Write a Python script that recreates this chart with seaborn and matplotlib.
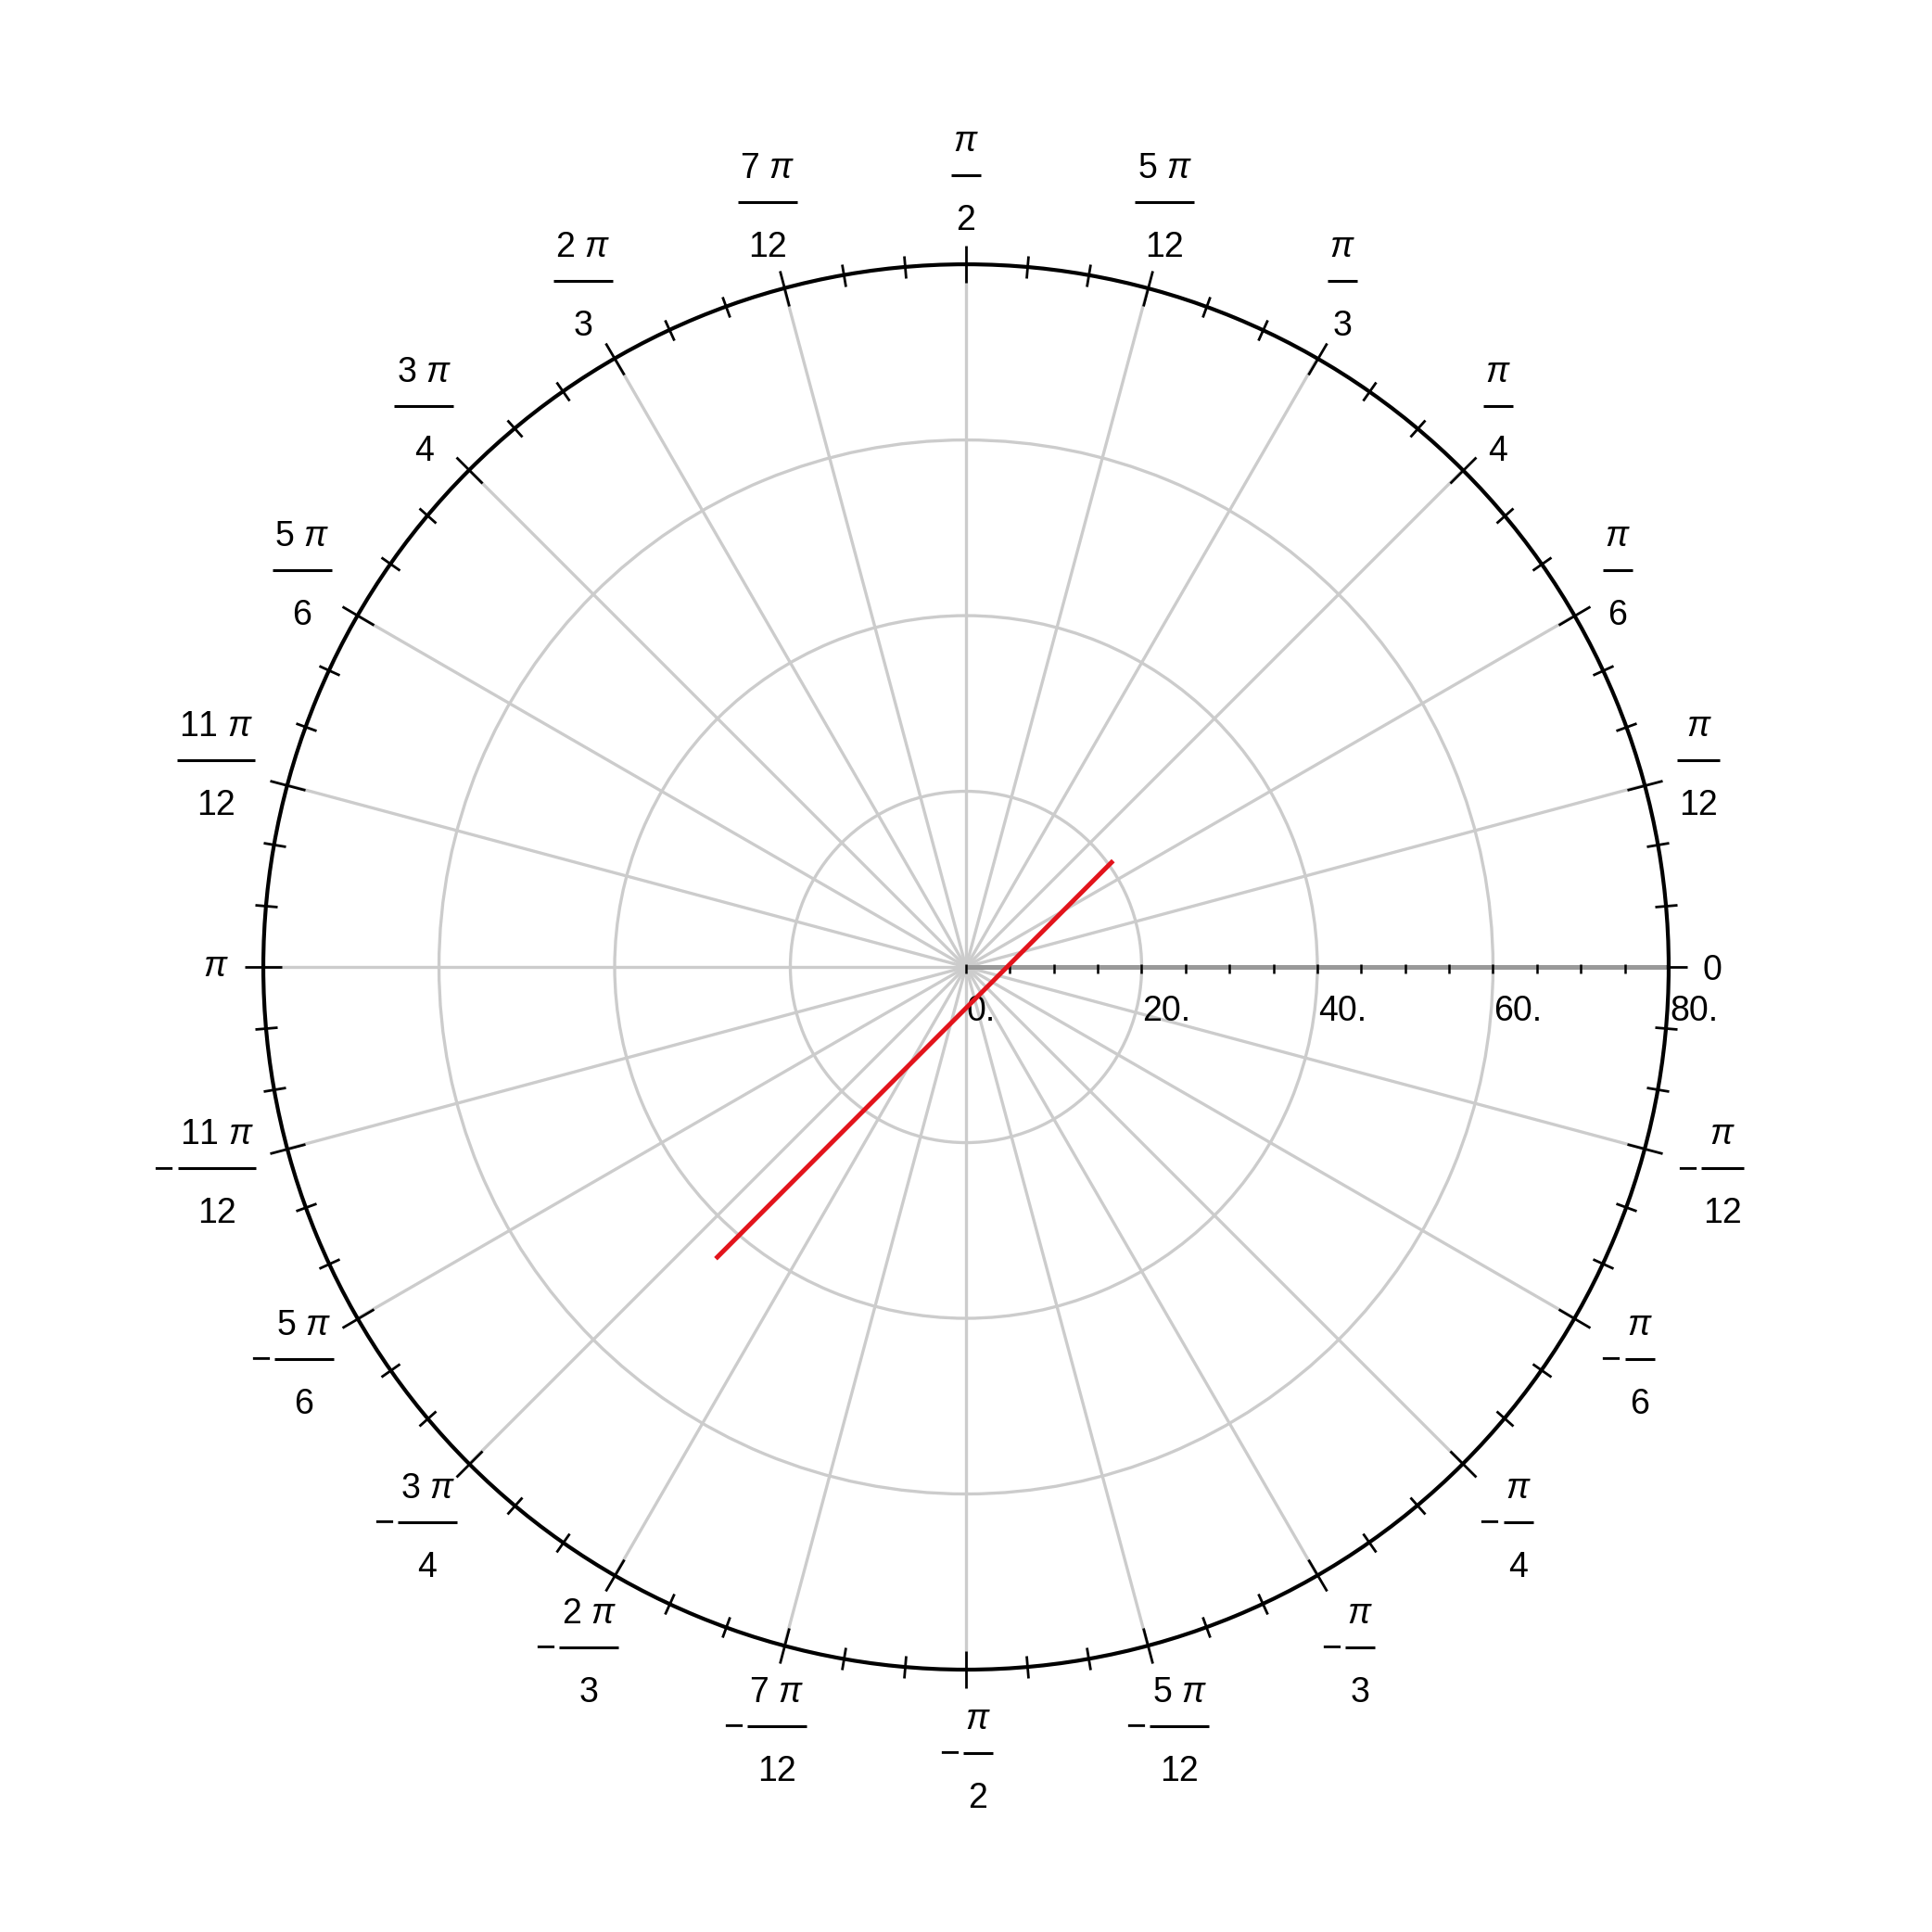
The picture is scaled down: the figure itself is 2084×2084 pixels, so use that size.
import numpy as np
import matplotlib
matplotlib.use("Agg")
import matplotlib.pyplot as plt
import matplotlib.transforms as mtransforms
import seaborn as sns

# Valeurs
angle_ticks = [0, 15, 30, 45, 60, 75, 90, 105, 120, 135, 150, 165, 180,
               -165, -150, -135, -120, -105, -90, -75, -60, -45, -30, -15]
angle_labels = ["0", "π/12", "π/6", "π/4", "π/3", "5π/12", "π/2", "7π/12",
                "2π/3", "3π/4", "5π/6", "11π/12", "π",
                "-11π/12", "-5π/6", "-3π/4", "-2π/3", "-7π/12", "-π/2",
                "-5π/12", "-π/3", "-π/4", "-π/6", "-π/12"]
minor_angle_ticks = [a for a in range(0, 360, 5) if a % 15 != 0]

radial_ticks = [0, 5, 10, 15, 20, 25, 30, 35, 40, 45, 50, 55, 60, 65, 70, 75, 80]
radial_label_values = [0, 20, 40, 60, 80]
radial_labels = ["0.", "20.", "40.", "60.", "80."]
radial_grid = [20, 40, 60]
r_max = 80

# segment rouge (theta en degrés, rayon)
line_theta = [35.7, 229.4]
line_r = [20.4, 43.5]

DPI = 200
FS = 13.5
GRID_COLOR = "#cccccc"
RED = "#e2141c"

plt.rcParams["font.family"] = ["Liberation Sans", "DejaVu Sans"]
plt.rcParams["mathtext.fontset"] = "custom"
plt.rcParams["mathtext.rm"] = "Liberation Sans"
plt.rcParams["mathtext.it"] = "Liberation Sans:italic"

fig = plt.figure(figsize=(2084 / DPI, 2084 / DPI), dpi=DPI)
ax = fig.add_axes([0.1363, 0.1358, 0.7274, 0.7274], projection="polar")


def shift(dx, dy):
    """Décalage en pixels appliqué après les coordonnées de données."""
    return ax.transData + mtransforms.ScaledTranslation(dx / DPI, dy / DPI, fig.dpi_scale_trans)


# courbe
sns.lineplot(x=np.deg2rad(line_theta), y=line_r, ax=ax, color=RED, lw=1.8,
             sort=False, zorder=4)

# grille et cadre
ax.set_xticks(np.deg2rad([a % 360 for a in angle_ticks]))
ax.set_xticklabels([])
ax.set_xticks(np.deg2rad(minor_angle_ticks), minor=True)
ax.set_thetalim(0, 2 * np.pi)
ax.set_ylim(0, r_max)
ax.set_yticks(radial_grid)
ax.set_yticklabels([])
ax.grid(True, color=GRID_COLOR, lw=1.2)
ax.tick_params(axis="x", which="both", bottom=False, top=True, color="k", width=1.0)
ax.tick_params(axis="x", which="major", direction="inout", length=7.2)
ax.tick_params(axis="x", which="minor", direction="inout", length=4.3)
ax.tick_params(axis="y", length=0)
ax.spines["polar"].set_linewidth(1.5)
ax.spines["polar"].set_color("k")

# axe radial le long de theta = 0
ax.plot([0, 0], [0, r_max], color="#999999", lw=1.8, zorder=2.5, solid_capstyle="butt")
ax.plot(np.zeros(len(radial_ticks)), radial_ticks, ls="none", marker="|",
        ms=10 * 72 / DPI, mew=0.9, color="k", transform=shift(0, -2),
        clip_on=False, zorder=3.5)
for v, lab in zip(radial_label_values, radial_labels):
    ax.text(0, v, lab, transform=shift(1, -30), ha="left", va="top",
            fontsize=FS, clip_on=False)

# étiquettes angulaires en fractions empilées
renderer = fig.canvas.get_renderer()


def text_width(s):
    t = fig.text(0, 0, s, fontsize=FS)
    w = t.get_window_extent(renderer).width
    t.remove()
    return w


gap = 37
em = FS * DPI / 72
for deg, lab in zip(angle_ticks, angle_labels):
    th = np.deg2rad(deg % 360)
    ux, uy = np.cos(th), np.sin(th)
    neg = lab.startswith("-")
    body = lab.lstrip("-")
    if "/" not in body:
        s = r"$\pi$" if body == "π" else body
        w = text_width(s)
        cx = ux * (gap + w / 2)
        base = -10 if body == "π" else -13.5
        ax.text(th, r_max, s, transform=shift(cx, base), ha="center",
                va="baseline", fontsize=FS, clip_on=False)
        continue
    num, den = body.split("/")
    coef = num[:-1]
    num_tex = rf"${coef}\ \pi$" if coef else r"$\pi$"
    nw = text_width(num_tex)
    dw = text_width(den)
    bar_w = max(nw, dw) + 5
    mw = text_width("\u2212") if neg else 0
    w = bar_w + (mw + 4 if neg else 0)
    h = 112
    cx = ux * (gap + w / 2)
    cy = uy * (gap + h / 2)
    bx = cx + w / 2 - bar_w / 2
    by = cy + 3
    ax.text(th, r_max, num_tex, transform=shift(bx, by + 26), ha="center",
            va="baseline", fontsize=FS, clip_on=False)
    ax.text(th, r_max, den, transform=shift(bx, by - 59), ha="center",
            va="baseline", fontsize=FS, clip_on=False)
    ax.plot([th], [r_max], marker="_", ms=bar_w * 72 / DPI, mew=1.1, color="k",
            transform=shift(bx, by), clip_on=False)
    if neg:
        ax.text(th, r_max, "\u2212", transform=shift(cx - w / 2 + mw / 2, by - 0.31 * em),
                ha="center", va="baseline", fontsize=FS, clip_on=False)

fig.savefig("out.png", dpi=DPI, facecolor="white")
